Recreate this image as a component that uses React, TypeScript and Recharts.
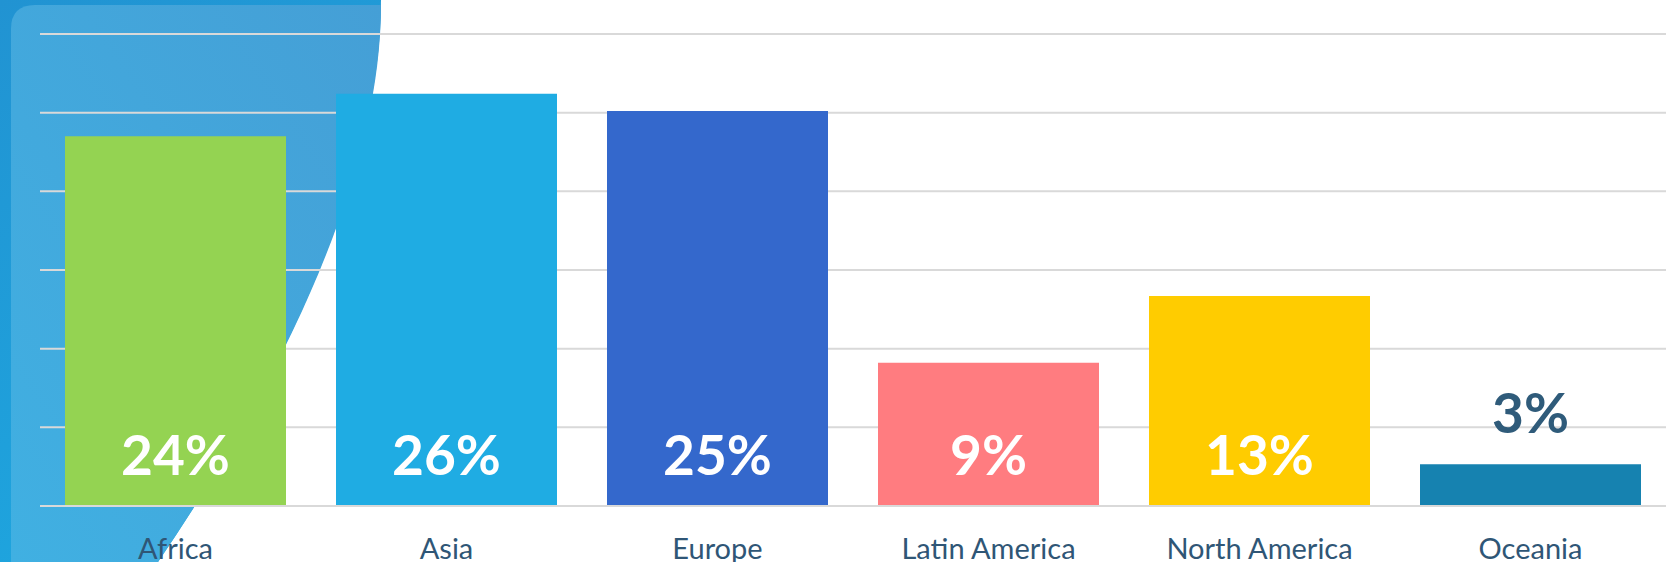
import { BarChart, Bar, XAxis, YAxis, CartesianGrid, Cell, LabelList } from "recharts";

const regions = ["Africa", "Asia", "Europe", "Latin America", "North America", "Oceania"];
const shares = [23.5, 26.2, 25.1, 9.1, 13.35, 2.65];
const shareLabels = ["24%", "26%", "25%", "9%", "13%", "3%"];
const barColors = ["#94D352", "#1FACE3", "#3468CC", "#FF7C80", "#FFCC00", "#1682B0"];
const yTicks = [0, 5, 10, 15, 20, 25, 30];

const data = regions.map((region, i) => ({ region, share: shares[i], label: shareLabels[i] }));

const W = 1675;
const H = 562;
const FONT = "Lato, 'Noto Sans', sans-serif";

// valeur dans la barre (en bas) ou au-dessus si la barre est trop basse
function ShareLabel(props: any) {
  const { x, y, width, height, index } = props;
  const cx = x + width / 2;
  const inside = height > 80;
  return (
    <text
      x={cx}
      y={inside ? y + height - 31 : y - 31}
      textAnchor="middle"
      fontFamily={FONT}
      fontWeight={700}
      fontSize={55}
      fill={inside ? "#FFFFFF" : "#2F5B7A"}
    >
      {shareLabels[index]}
    </text>
  );
}

function RegionTick(props: any) {
  const { x, y, payload } = props;
  return (
    <text x={x} y={y} dy={45} textAnchor="middle" fontFamily={FONT} fontSize={29} fill="#2F5676">
      {payload.value}
    </text>
  );
}

function Backdrop() {
  return (
    <svg width={W} height={H} style={{ position: "absolute", left: 0, top: 0 }}>
      <defs>
        <linearGradient id="outerBlue" x1="0" y1="0" x2="0.4" y2="1">
          <stop offset="0%" stopColor="#2193D2" />
          <stop offset="100%" stopColor="#1EA6DF" />
        </linearGradient>
        <linearGradient id="innerBlue" x1="1" y1="0" x2="0" y2="1">
          <stop offset="0%" stopColor="#459FD6" />
          <stop offset="100%" stopColor="#40B0E2" />
        </linearGradient>
      </defs>
      <path d="M0 0 H381 C381 180 275 390 158 562 H0 Z" fill="url(#outerBlue)" />
      <path d="M11 562 V29 Q11 5 35 5 H381 C381 182 275 390 158 562 Z" fill="url(#innerBlue)" />
    </svg>
  );
}

export default function App() {
  return (
    <div style={{ position: "absolute", left: 0, top: 0, width: W, height: H, background: "#FFFFFF" }}>
      <Backdrop />
      <div style={{ position: "absolute", left: 0, top: 0 }}>
        <BarChart
          width={W}
          height={H}
          data={data}
          margin={{ top: 34, right: 9, left: 40, bottom: 0 }}
          barCategoryGap={25}
        >
          <CartesianGrid vertical={false} stroke="#D9D9D9" strokeWidth={2} />
          <YAxis hide domain={[0, 30]} ticks={yTicks} />
          <XAxis
            dataKey="region"
            height={56}
            axisLine={{ stroke: "#D9D9D9", strokeWidth: 2 }}
            tickLine={false}
            tick={<RegionTick />}
            interval={0}
          />
          <Bar dataKey="share" isAnimationActive={false}>
            {data.map((d, i) => (
              <Cell key={d.region} fill={barColors[i]} />
            ))}
            <LabelList dataKey="label" content={<ShareLabel />} />
          </Bar>
        </BarChart>
      </div>
    </div>
  );
}
